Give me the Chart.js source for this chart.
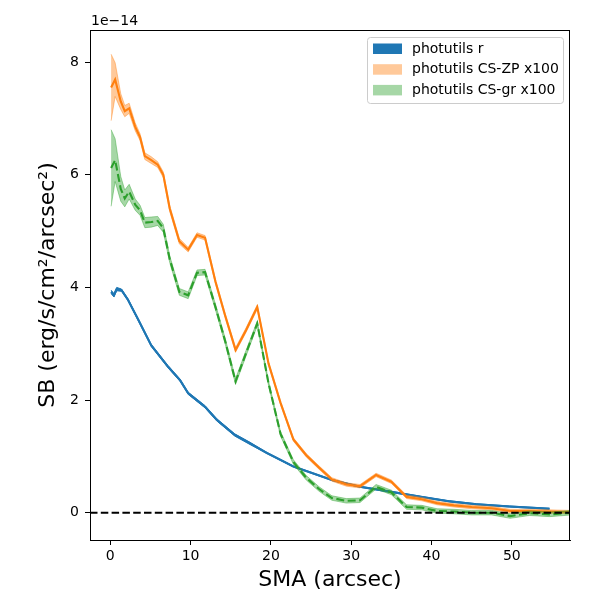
<!DOCTYPE html>
<html lang="en">
<head>
<meta charset="UTF-8">
<title>SB profile</title>
<style>
  body { margin: 0; background: #fff; }
  .containerCanva { position: relative; width: 600px; height: 600px; }
</style>
</head>
<body>
<div class="containerCanva"><canvas id="myChart"></canvas></div>
<script src="https://cdn.jsdelivr.net/npm/chart.js@4.4.0/dist/chart.umd.min.js"></script>
<script>
// SB values are in units of 1e-14 erg/s/cm2/arcsec2
const smaR = [0.1, 0.45, 0.8, 1.4, 2.2, 3.5, 5.1, 7.2, 8.7, 9.7, 11.8, 13.25, 15.5, 17.4, 19.5, 22.8, 25.2, 27.6, 31.1, 35.0, 38.8, 42.3, 45.6, 49.7, 54.7];
const sbR = [3.92, 3.86, 3.97, 3.95, 3.78, 3.42, 2.97, 2.59, 2.35, 2.12, 1.88, 1.65, 1.38, 1.23, 1.06, 0.82, 0.70, 0.58, 0.46, 0.37, 0.28, 0.20, 0.15, 0.11, 0.07];
const errR = [0.03, 0.03, 0.03, 0.02, 0.02, 0.02, 0.02, 0.02, 0.02, 0.02, 0.02, 0.02, 0.02, 0.02, 0.01, 0.01, 0.01, 0.01, 0.01, 0.01, 0.01, 0.01, 0.01, 0.01, 0.01];

const smaCS = [0.1, 0.6, 1.3, 1.8, 2.35, 3.1, 3.7, 4.3, 5.1, 5.9, 6.6, 7.4, 8.6, 9.7, 10.8, 11.8, 13.1, 14.3, 15.6, 16.9,
               18.3, 19.7, 21.2, 22.8, 24.4, 26.0, 27.6, 29.4, 31.1, 33.1, 35.0, 36.9, 38.8, 40.7, 42.8, 45.0, 47.5, 49.8, 52.2, 54.7, 57.5];
const sbZP = [7.55, 7.69, 7.30, 7.13, 7.18, 6.85, 6.67, 6.33, 6.26, 6.18, 6.00, 5.40, 4.82, 4.67, 4.93, 4.88, 4.10, 3.50, 2.89, 3.24,
              3.65, 2.65, 1.95, 1.30, 1.02, 0.80, 0.59, 0.50, 0.47, 0.67, 0.55, 0.28, 0.24, 0.17, 0.13, 0.10, 0.08, 0.03, 0.03, 0.02, 0.01];
const errZP = [0.59, 0.30, 0.14, 0.10, 0.09, 0.07, 0.06, 0.06, 0.06, 0.05, 0.05, 0.05, 0.05, 0.04, 0.04, 0.04, 0.04, 0.04, 0.04, 0.04,
               0.04, 0.03, 0.03, 0.03, 0.03, 0.03, 0.03, 0.03, 0.03, 0.03, 0.03, 0.03, 0.03, 0.03, 0.03, 0.03, 0.03, 0.03, 0.03, 0.03, 0.03];
const sbGR = [6.12, 6.26, 5.75, 5.58, 5.70, 5.47, 5.37, 5.15, 5.16, 5.18, 5.05, 4.50, 3.92, 3.86, 4.26, 4.27, 3.65, 3.05, 2.33, 2.83,
              3.36, 2.30, 1.40, 0.90, 0.62, 0.42, 0.26, 0.21, 0.22, 0.46, 0.36, 0.10, 0.09, 0.03, 0.02, 0.00, 0.00, -0.06, -0.01, -0.03, 0.00];
const errGR = [0.68, 0.38, 0.22, 0.15, 0.13, 0.10, 0.09, 0.09, 0.09, 0.08, 0.07, 0.06, 0.06, 0.06, 0.05, 0.05, 0.05, 0.05, 0.05, 0.05,
               0.04, 0.04, 0.04, 0.04, 0.04, 0.04, 0.04, 0.04, 0.04, 0.04, 0.04, 0.04, 0.04, 0.04, 0.04, 0.04, 0.04, 0.04, 0.04, 0.04, 0.04];

const seriesLabels = ['photutils r', 'photutils CS-ZP x100', 'photutils CS-gr x100'];
const xTicks = [0, 10, 20, 30, 40, 50];
const yTicks = [0, 2, 4, 6, 8];
const xLimits = [-2.53, 57.25];
const yLimits = [-0.485, 8.57];

const blue = '#1f77b4', orange = '#ff7f0e', green = '#2ca02c';
const bandColors = [blue, 'rgba(255,127,14,0.42)', 'rgba(44,160,44,0.42)'];

Chart.defaults.font.family = 'DejaVu Sans';
Chart.defaults.color = '#000';

function toPts(xs, ys, err, sign) {
    return xs.map((x, i) => ({ x: x, y: ys[i] + sign * (err ? err[i] : 0) }));
}

function bandPair(xs, ys, err, color, order) {
    const base = { showLine: true, pointRadius: 0, borderWidth: 1, borderColor: color, backgroundColor: color, order: order };
    return [
        Object.assign({}, base, { data: toPts(xs, ys, err, -1), fill: false }),
        Object.assign({}, base, { data: toPts(xs, ys, err, 1), fill: '-1' })
    ];
}

function lineSet(xs, ys, color, order, dash) {
    return { data: toPts(xs, ys, null, 0), showLine: true, pointRadius: 0, borderWidth: 2.1,
             borderColor: color, borderDash: dash || [], fill: false, order: order };
}

const datasets = [].concat(
    bandPair(smaR, sbR, errR, bandColors[0], 7),
    [lineSet(smaR, sbR, blue, 6)],
    bandPair(smaCS, sbZP, errZP, bandColors[1], 5),
    [lineSet(smaCS, sbZP, orange, 4)],
    bandPair(smaCS, sbGR, errGR, bandColors[2], 3),
    [lineSet(smaCS, sbGR, green, 2, [8, 3.5])],
    [{ data: [{ x: xLimits[0], y: 0 }, { x: xLimits[1], y: 0 }], showLine: true, pointRadius: 0,
       borderWidth: 2, borderColor: '#000', borderDash: [7.5, 3.3], fill: false, order: 0 }]
);

// frame, offset text and legend drawn the matplotlib way
const extras = {
    id: 'extras',
    afterDraw(chart) {
        const { ctx, chartArea: a } = chart;
        ctx.save();
        ctx.strokeStyle = '#000';
        ctx.lineWidth = 1;
        ctx.strokeRect(a.left + 0.5, a.top + 0.5, a.right - a.left - 1, a.bottom - a.top);

        ctx.font = '14px "DejaVu Sans"';
        ctx.fillStyle = '#000';
        ctx.textBaseline = 'middle';
        ctx.textAlign = 'left';
        ctx.fillText('1e\u221214', a.left + 1, 21);

        const bx = 367.5, by = 37.5, bw = 196, bh = 66;
        ctx.beginPath();
        ctx.roundRect(bx, by, bw, bh, 3);
        ctx.fillStyle = 'rgba(255,255,255,0.8)';
        ctx.fill();
        ctx.strokeStyle = '#cccccc';
        ctx.stroke();
        seriesLabels.forEach((lab, i) => {
            const cy = 49 + i * 20.7;
            ctx.fillStyle = bandColors[i];
            ctx.fillRect(373, cy - 5.5, 29, 10.5);
            ctx.fillStyle = '#000';
            ctx.fillText(lab, 412, cy);
        });
        ctx.restore();
    }
};

const ctx = document.getElementById('myChart').getContext('2d');
const myChart = new Chart(ctx, {
    type: 'scatter',
    data: { datasets: datasets },
    options: {
        responsive: true,
        maintainAspectRatio: false,
        animation: false,
        layout: { padding: { top: 30, right: 30, left: 0, bottom: 0 } },
        plugins: { legend: { display: false }, tooltip: { enabled: false } },
        scales: {
            x: {
                type: 'linear', min: xLimits[0], max: xLimits[1],
                afterBuildTicks: s => { s.ticks = xTicks.map(v => ({ value: v })); },
                afterFit: s => { s.height = 60; },
                grid: { drawOnChartArea: false, drawTicks: true, tickLength: 5, color: '#000' },
                border: { display: true, color: '#000', width: 1 },
                ticks: { font: { size: 14 }, padding: 3, maxRotation: 0 },
                title: { display: true, text: 'SMA (arcsec)', font: { size: 22 }, padding: { top: 0, bottom: 7 } }
            },
            y: {
                type: 'linear', min: yLimits[0], max: yLimits[1],
                afterBuildTicks: s => { s.ticks = yTicks.map(v => ({ value: v })); },
                afterFit: s => { s.width = 90; },
                grid: { drawOnChartArea: false, drawTicks: true, tickLength: 5, color: '#000' },
                border: { display: true, color: '#000', width: 1 },
                ticks: { font: { size: 14 }, padding: 6 },
                title: { display: true, text: 'SB (erg/s/cm\u00b2/arcsec\u00b2)', font: { size: 22 }, padding: { top: 35, bottom: 0 } }
            }
        }
    },
    plugins: [extras]
});
</script>
</body>
</html>
